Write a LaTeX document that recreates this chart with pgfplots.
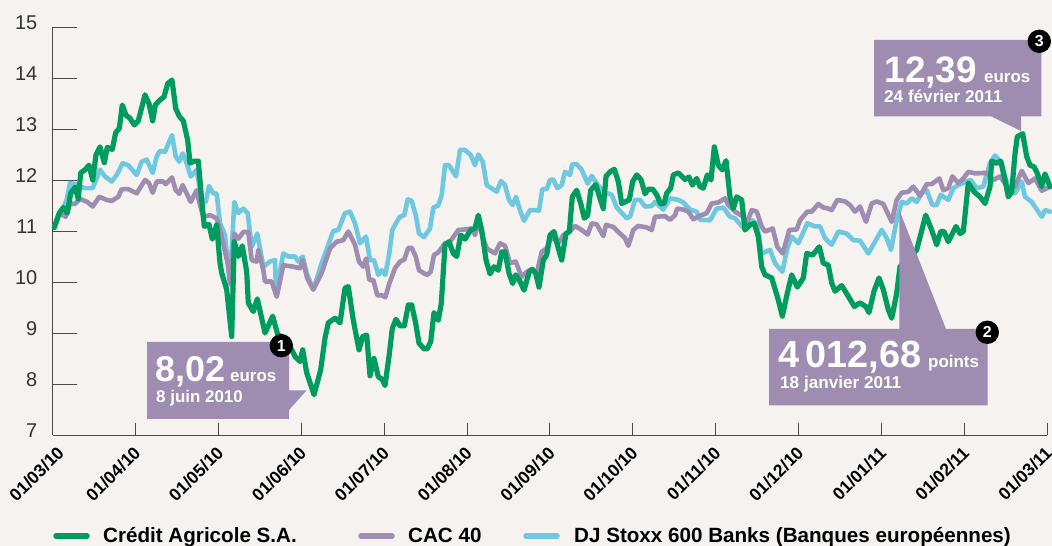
\documentclass[border=0pt]{standalone}
\usepackage{pgfplots}
\pgfplotsset{compat=1.18}
\usepackage{fontspec}
\setmainfont{Liberation Sans}
\definecolor{bg}{HTML}{F5F2EF}
\definecolor{cagreen}{HTML}{009B5F}
\definecolor{cacpurple}{HTML}{9E8DB1}
\definecolor{stoxxblue}{HTML}{6EC8DF}
\definecolor{axisgray}{HTML}{4A4A48}
\begin{document}
\begin{tikzpicture}
\fill[bg] (0,0) rectangle (1052bp,546bp);
\useasboundingbox (0,0) rectangle (1052bp,546bp);
\begin{axis}[
  at={(52.7bp,111bp)}, anchor=origin, name=main,
  scale only axis, width=994.3bp, height=408bp,
  xmin=52.7, xmax=1047, ymin=7, ymax=15,
  clip=false,
  axis x line*=bottom, axis y line*=left,
  axis line style={axisgray, line width=1pt, -},
  tick align=inside, tickwidth=24.3bp,
  ytick={7,8,9,10,11,12,13,14,15},
  xtick={135.5,218.4,301.3,384.1,467,549.9,632.7,715.6,798.5,881.3,964.2,1047},
  xticklabels={01/04/10,01/05/10,01/06/10,01/07/10,01/08/10,01/09/10,01/10/10,01/11/10,01/12/10,01/01/11,01/02/11,01/03/11},
  extra x ticks={52.7}, extra x tick labels={01/03/10},
  extra x tick style={xticklabel style={xshift=4.4bp, yshift=-4.4bp}},
  xtick style={draw=none}, ytick style={axisgray, line width=1pt},
  /pgf/number format/assume math mode=true,
  yticklabel style={font=\fontsize{20}{20}\selectfont, text=black!80, anchor=east, xshift=-12bp, yshift=4bp},
  xticklabel style={font=\fontsize{17.6}{17.6}\selectfont\bfseries, text=black, rotate=45, anchor=north east, xshift=-5.7bp, yshift=-1.6bp},
  line join=round,
]
\addplot[stoxxblue, line width=4.6bp, line join=round, line cap=round] coordinates {
(54.3,11.07)(59.3,11.35)(63.3,11.46)(66.7,11.61)(70,11.94)(75,11.92)(80,11.87)(85,11.84)(92.7,11.84)(100,12.20)(105,12.07)(111.7,11.97)(116.7,12.10)(122.7,12.33)(128.3,12.29)(136.7,12.10)(141.7,12.36)(146.7,12.40)(152.7,12.14)(156.7,12.46)(160,12.57)(165,12.55)(172,12.88)(175.7,12.46)(179.3,12.36)(182.7,12.52)(186.7,12.33)(190.7,12.07)(196.7,12.20)(201.7,11.61)(205.7,11.57)(209,11.88)(213.3,11.74)(216.7,11.73)(220,11.15)(225,10.92)(230,9.95)(234.3,11.57)(238.3,11.35)(243.3,11.44)(247.7,11.35)(251.7,10.69)(257.3,10.95)(263.3,10.30)(270,10.40)(275,10.43)(276,9.78)(283.3,10.56)(288.3,10.50)(295,10.50)(298.3,10.40)(302.7,10.50)(306.7,10.17)(313.3,9.85)(321.7,10.37)(333.3,11.0)(338.3,11.02)(345,11.35)(350,11.38)
(355,11.15)(360,10.76)(366,10.89)(370,10.43)(374,10.43)(378.3,10.14)(381.7,10.23)(385.3,10.14)(389.3,10.56)(392.3,11.02)(396.7,11.18)(400,11.28)(404.3,11.31)(407.7,11.62)(411.7,11.59)(415.7,11.31)(419,10.95)(424,10.88)(430,11.05)(433.3,11.46)(438.3,11.50)(441.7,11.70)(445,12.29)(449,12.29)(456,12.07)(460,12.59)(465,12.59)(470.7,12.49)(475,12.29)(478.3,12.50)(482.7,12.36)(486.7,11.90)(496.7,11.77)(501,11.98)(505,11.90)(509,11.61)(512.7,11.51)(516,11.67)(520,11.41)(524,11.20)(530,11.41)(533.3,11.41)(539,11.40)(542.3,11.82)(546.7,11.82)(550,12.0)(553.3,12.01)(557.3,11.84)(561.7,11.90)(565,12.16)(570,12.10)(572.3,12.31)(576.7,12.31)(581.7,12.20)(587.7,11.93)(591.7,12.08)(596.7,11.93)(603.3,11.77)(611.7,11.71)(616.7,11.46)(626.7,11.25)(630,11.28)(635,11.61)(640,11.61)(645,11.48)(651.7,11.49)(655,11.57)(663.3,11.42)(670,11.64)(678.3,11.61)(683.3,11.56)(690,11.42)(696.7,11.38)
(700,11.22)(710,11.21)(716.7,11.44)(723.3,11.46)(730,11.28)(735,11.25)(745,11.02)(751.7,11.21)(756.7,11.15)(761.7,10.56)(770,10.63)(775,10.37)(782.3,10.20)(787.3,10.66)(791.7,10.89)(798.3,10.76)(807.3,11.15)(815,11.09)(820,11.09)(825,10.86)(831.7,10.73)(838.3,10.99)(846.7,10.95)(853.3,10.82)(860,10.81)(868.3,10.56)(881.7,11.02)(886.7,10.86)(891,10.63)(896.7,11.21)(901.7,11.57)(906.7,11.54)(911.7,11.64)(916.7,11.57)(921.7,11.74)(926.7,11.80)(932.3,11.51)(936.7,11.51)(940.7,11.71)(948.3,11.61)(953.3,11.84)(958.3,11.90)(966.7,11.97)(970.7,12.0)(976.7,11.84)(983.3,11.87)(990,12.33)(995,12.48)(1001.7,12.33)(1005,12.07)(1010,11.74)(1015,11.74)(1021.7,11.97)(1025,11.67)(1031.7,11.57)(1041.7,11.28)(1045,11.41)(1050,11.38)
};
\addplot[cacpurple, line width=4.6bp, line join=round, line cap=round] coordinates {
(54.3,11.07)(59.3,11.35)(65.7,11.28)(70,11.54)(75,11.53)(80,11.63)(87.3,11.57)(92.7,11.48)(99.3,11.67)(106.7,11.61)(111.7,11.59)(118.3,11.67)(121.7,11.82)(128.3,11.82)(136.7,11.74)(145,12.0)(149,11.94)(152.7,11.75)(156.7,11.97)(163.3,11.97)(165.7,11.92)(172,12.05)(175.7,11.80)(179.3,11.73)(182.7,11.90)(190.7,11.57)(196.7,11.80)(200,11.51)(203.3,11.28)(210,11.31)(216.7,11.25)(220,11.02)(224,10.69)(228.3,10.30)(230,9.98)(234.3,10.95)(238.3,10.85)(243.3,10.98)(248.3,10.98)(251.7,10.43)(256.7,10.40)(258.3,10.63)(263.3,10.24)(265,10.01)(271.7,10.01)(276.7,9.71)(283.3,10.33)(293.3,10.30)(300,10.27)(302.7,10.43)(307.3,10.07)(313.3,9.85)(321.7,10.18)(325,10.37)(330,10.66)(336.7,10.79)(343.3,10.82)(348.3,10.99)
(355,10.73)(359,10.40)(363.3,10.30)(366,10.46)(369.3,10.04)(373.3,10.04)(377.3,9.74)(381.7,9.74)(385.3,9.70)(389.3,9.97)(395,10.27)(400,10.40)(404.3,10.44)(408.3,10.67)(411.7,10.67)(415.7,10.50)(419,10.23)(424,10.17)(427.3,10.14)(430.7,10.20)(434,10.53)(438.3,10.58)(445,10.76)(449,10.76)(458.3,11.02)(465,11.03)(471.7,11.05)(475,10.92)(478.3,11.22)(481.7,10.95)(486.7,10.66)(495,10.56)(500,10.76)(505,10.71)(510,10.37)(515.7,10.40)(521.7,10.10)(526.7,10.20)(531.7,10.25)(536.7,10.17)(541.7,10.59)(546.7,10.66)(551.7,10.89)(558.3,10.76)(563.3,10.92)(570,10.99)(575,11.10)(581.7,11.02)(587.7,10.93)(591.7,11.15)(596.7,11.13)(603.3,10.90)(606,11.12)(613.3,11.08)(620,10.95)(625,10.86)(628.3,10.71)(633.3,11.02)(638.3,11.10)(646.7,11.07)(651.7,11.02)(655,11.28)(665,11.29)(670,11.22)(675,11.31)(677.3,11.44)(683.3,11.42)(688.3,11.38)(693.3,11.23)(700,11.30)
(706.7,11.35)(711.7,11.54)(718.3,11.56)(725,11.64)(728.3,11.51)(735,11.38)(743.3,11.28)(746.7,11.15)(751.7,11.41)(756.7,11.38)(761.7,11.09)(765,10.99)(772.7,11.05)(777.3,10.69)(782.7,10.56)(789.3,11.02)(796.7,11.03)(800,11.21)(807.3,11.38)(811.7,11.38)(818.3,11.53)(823.3,11.46)(828.3,11.44)(831.7,11.41)(837.3,11.61)(845,11.58)(850,11.51)(855,11.38)(860,11.48)(866,11.18)(871.7,11.54)(876.7,11.58)(883.3,11.53)(891.7,11.18)(896.7,11.61)(901.7,11.75)(908.3,11.77)(913.3,11.87)(920,11.69)(926.7,11.92)(931.7,11.92)(939.3,12.03)(943.3,11.80)(948.3,11.84)(952.3,12.07)(958.3,11.94)(963.3,12.03)(968.3,12.16)(975,12.13)(986.7,12.14)(993.3,12.0)(1000,12.07)(1008.3,11.84)(1015,11.87)(1021.7,12.18)(1028.3,11.94)(1035,12.03)(1041.7,11.79)(1050,11.87)
};
\addplot[cagreen, line width=5.2bp, line join=round, line cap=round] coordinates {
(54.3,11.07)(59.3,11.35)(63.3,11.46)(67.3,11.35)(70.7,11.74)(75,11.86)(78.3,11.63)(80.7,12.14)(85,12.20)(89,12.29)(92.7,12.00)(96,12.49)(100,12.65)(104.3,12.34)(107.3,12.64)(112.3,12.60)(115.7,12.93)(119.3,13.01)(122.3,13.47)(126,13.27)(130,13.21)(134.3,13.08)(138.3,13.16)(145,13.67)(149,13.50)(152.7,13.16)(155.3,13.47)(160,13.57)(164,13.63)(167.7,13.89)(172,13.96)(175.7,13.40)(179.3,13.25)(183.3,13.16)(187.7,12.78)(190,12.33)(194,12.37)(198.3,12.37)(201.7,11.61)(204.3,11.09)(209,11.13)(212.3,10.84)(216.7,11.12)(220,10.37)(221.7,10.18)(226.7,9.85)(231.7,8.93)(234.3,10.79)(238.3,10.50)(242.3,10.71)(246.7,10.2)(248.3,9.59)(253.3,9.42)(257.3,9.67)(265,9.0)(272.7,9.33)(277.7,8.97)(286.7,8.87)(295,8.54)(300,8.44)(302.7,8.67)(306.7,8.22)(314,7.79)(320.7,8.28)(325,8.90)(328.3,9.20)(335,9.29)(340,9.20)(345,9.88)(348.3,9.91)
(353.3,9.25)(359,8.67)(362.7,8.93)(366.7,8.96)(370,8.16)(374,8.50)(378.3,8.14)(382.3,8.09)(385,7.97)(389,8.54)(392.3,9.09)(396,9.27)(400,9.14)(404.3,9.14)(408.3,9.55)(411.7,9.55)(415.7,9.19)(419,8.80)(424,8.69)(427.3,8.69)(430.7,8.83)(434,9.40)(438.3,9.25)(441.3,9.58)(445,10.73)(449,10.79)(453.3,10.56)(456.7,10.50)(460.7,10.92)(465,10.84)(470.7,11.02)(475,11.05)(478.3,11.31)(481.7,11.02)(486,10.43)(490,10.16)(494,10.30)(498.3,10.23)(501.7,10.59)(505,10.59)(509,10.17)(512.7,9.97)(515.7,10.14)(520,10.01)(524,9.84)(529.3,10.20)(532.3,10.25)(535.7,10.17)(539,9.90)(543.3,10.43)(546.7,10.53)(550,10.92)(554,10.99)(558.3,10.66)(561.7,10.43)(566,10.95)(569.3,10.99)(572.3,11.67)(576.7,11.80)(580.7,11.54)(584.3,11.25)(587.7,11.31)(590.7,11.80)(595.7,11.91)(600,11.64)(603.3,11.44)(606,12.07)(610,12.16)(614.3,12.21)(618.3,11.97)(621.7,11.54)(625,11.57)(629.3,11.61)(632.7,11.97)(636.7,12.10)(641,12.01)(645,11.73)(648.3,11.82)(652.7,11.82)(656.7,11.71)(660.7,11.53)(664,11.54)(666.7,11.74)(670.7,11.84)(673.3,12.10)(678.3,12.14)(685,12.01)(689,12.06)(692.3,11.90)(696.7,12.03)(700,11.87)
(703.3,11.84)(707.3,12.10)(711,12.0)(714.3,12.65)(718.3,12.29)(722.3,12.20)(726,12.38)(730,11.67)(733.3,11.44)(736.7,11.67)(741.7,11.61)(745,11.02)(750,11.12)(754.3,11.15)(758.3,10.89)(761.7,10.30)(765,10.14)(771.7,10.08)(778.3,9.65)(782.3,9.33)(787.3,9.78)(791.7,10.14)(797.3,9.90)(803.3,10.08)(806.7,10.56)(812.7,10.53)(819.3,10.69)(823.3,10.37)(828.3,10.33)(831.7,9.98)(835,9.82)(841.7,9.93)(848.3,9.72)(854.3,9.52)(860,9.59)(865.7,9.52)(869,9.40)(874,9.82)(879,10.08)(883.3,9.85)(888.3,9.46)(891.7,9.29)(896.7,9.78)(900,10.30)(916.7,10.63)(925.7,11.31)(931.7,11.02)(936.7,10.73)(940.7,10.99)(944,10.99)(948.3,10.79)(956,11.09)(960,10.95)(963.3,10.99)(968.3,11.94)(974,11.77)(980,11.67)(985,11.54)(990,11.87)(991.7,12.37)(996.7,12.33)(1000.7,12.37)(1005,12.0)(1008.3,11.67)(1011.7,11.77)(1015,12.52)(1017.3,12.85)(1022.7,12.91)(1026.7,12.46)(1030,12.29)(1034,12.26)(1037.3,12.13)(1041.7,11.87)(1045,12.12)(1050,11.87)
};
\end{axis}
\begin{scope}[x=1bp,y=-1bp,shift={(0,546bp)}]
  \foreach \t in {52.7,135.5,218.4,301.3,384.1,467,549.9,632.7,715.6,798.5,881.3,964.2,1047}
    \draw[axisgray, line width=1pt] (\t,423) -- (\t,435);
  % callout 1
  \fill[cacpurple] (147,342) -- (289,342) -- (289,390.3) -- (306.7,390.3) -- (289,410) -- (289,419) -- (147,419) -- cycle;
  \node[anchor=base west, inner sep=0, text=white, font=\fontsize{36}{36}\selectfont\bfseries] at (155.5,382) {8,02};
  \node[anchor=base west, inner sep=0, text=white, font=\fontsize{17}{17}\selectfont\bfseries] at (230,382) {euros};
  \node[anchor=base west, inner sep=0, text=white, font=\fontsize{17}{17}\selectfont\bfseries] at (156,403) {8 juin 2010};
  \fill[black] (281.3,345.7) circle (11.7);
  \node[text=white, inner sep=0, font=\fontsize{16}{16}\selectfont\bfseries] at (281.3,345.7) {1};
  % callout 2
  \fill[cacpurple] (769,329) -- (899.3,329) -- (899.3,210) -- (946,329) -- (987.7,329) -- (987.7,405.3) -- (769,405.3) -- cycle;
  \node[anchor=base west, inner sep=0, text=white, font=\fontsize{38}{38}\selectfont\bfseries] at (778.5,368) {4\hspace{6bp}012,68};
  \node[anchor=base west, inner sep=0, text=white, font=\fontsize{17}{17}\selectfont\bfseries] at (928,368) {points};
  \node[anchor=base west, inner sep=0, text=white, font=\fontsize{17.2}{17.2}\selectfont\bfseries] at (780,389) {18 janvier 2011};
  \fill[black] (987.3,332.3) circle (11.7);
  \node[text=white, inner sep=0, font=\fontsize{16}{16}\selectfont\bfseries] at (987.3,332.3) {2};
  % callout 3
  \fill[cacpurple] (874,40) -- (1041.3,40) -- (1041.3,116.3) -- (1021,116.3) -- (1021,131) -- (991,116.3) -- (874,116.3) -- cycle;
  \node[anchor=base west, inner sep=0, text=white, font=\fontsize{37}{37}\selectfont\bfseries] at (884.5,82.7) {12,39};
  \node[anchor=base west, inner sep=0, text=white, font=\fontsize{17}{17}\selectfont\bfseries] at (984,82.7) {euros};
  \node[anchor=base west, inner sep=0, text=white, font=\fontsize{17.2}{17.2}\selectfont\bfseries] at (884,102.7) {24 février 2011};
  \fill[black] (1039.3,41.3) circle (11.7);
  \node[text=white, inner sep=0, font=\fontsize{16}{16}\selectfont\bfseries] at (1039.3,41.3) {3};
  % legend
  \draw[cagreen, line width=5.5bp, line cap=round] (56,536) -- (87,536);
  \node[anchor=base west, inner sep=0, font=\fontsize{20.7}{20.7}\selectfont\bfseries] at (103,542.5) {Crédit Agricole S.A.};
  \draw[cacpurple, line width=5.5bp, line cap=round] (361,536) -- (392,536);
  \node[anchor=base west, inner sep=0, font=\fontsize{20.7}{20.7}\selectfont\bfseries] at (408,542.5) {CAC 40};
  \draw[stoxxblue, line width=5.5bp, line cap=round] (526,536) -- (557,536);
  \node[anchor=base west, inner sep=0, font=\fontsize{20.7}{20.7}\selectfont\bfseries] at (574,542.5) {DJ Stoxx 600 Banks (Banques européennes)};
\end{scope}
\end{tikzpicture}
\end{document}
